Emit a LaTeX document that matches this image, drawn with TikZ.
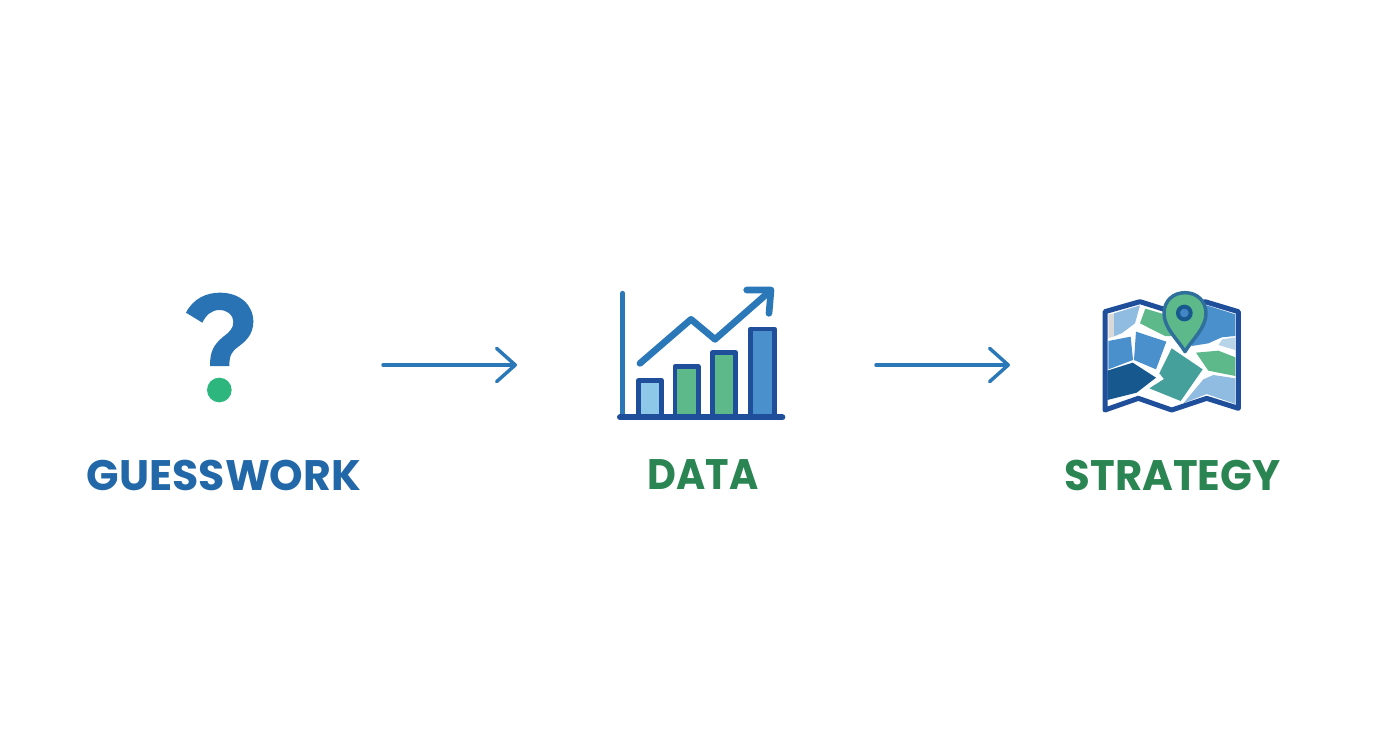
\documentclass[tikz,border=0pt]{standalone}
\usepackage{fontspec}
\setmainfont{Poppins}
\usetikzlibrary{arrows.meta, positioning}
\definecolor{flowblue}{HTML}{2B78B8}
\definecolor{wordblue}{HTML}{2268A8}
\definecolor{wordgreen}{HTML}{2A8553}
\definecolor{navy}{HTML}{1F4E9B}
\definecolor{paleblue}{HTML}{8FBCE0}
\definecolor{skyblue}{HTML}{8DC8E8}
\definecolor{midblue}{HTML}{4A90CC}
\definecolor{deepblue}{HTML}{17588F}
\definecolor{teal}{HTML}{45A09C}
\definecolor{leaf}{HTML}{5DB88A}
\definecolor{mist}{HTML}{B8D4E8}
\tikzset{
	word/.style={font=\fontsize{32}{32}\selectfont\bfseries, inner sep=0pt},
	flow/.style={draw=flowblue, line width=2.6pt, line cap=round, -{Straight Barb[length=14pt, width=25pt, line width=2.6pt, round]}},
	bar/.style={draw=navy, line width=3.5pt, line join=round},
	trend/.style={draw=flowblue, line width=5pt, line cap=round, line join=round}
}

\begin{document}
\begin{tikzpicture}[x=0.75pt, y=-0.75pt]
		\useasboundingbox (0, 0) rectangle (1392, 752);

		% Labels
		\begin{scope}
			\node (guesswork) at (224, 475) [word, text=wordblue] {GUESSWORK};
			\node (data) at (703, 475) [word, text=wordgreen] {\scalebox{0.93}[1]{DATA}};
			\node (strategy) at (1172.5, 475) [word, text=wordgreen] {\scalebox{0.98}[1]{STRATEGY}};
		\end{scope}

		% Flow arrows
		\begin{scope}
			\coordinate (flow_a_in) at (383, 365);
			\coordinate (flow_a_out) at (517, 365);
			\coordinate (flow_b_in) at (876, 365);
			\coordinate (flow_b_out) at (1010, 365);
			\draw [flow] (flow_a_in) -- (flow_a_out);
			\draw [flow] (flow_b_in) -- (flow_b_out);
		\end{scope}

		% Question mark
		\begin{scope}[shift={(170, 280)}, x=0.25pt, y=-0.25pt]
			\fill [flowblue!85!navy] (48,98) .. controls (70,55) and (110,38) .. (150,38) .. controls (210,38) and (250,75) .. (250,125) .. controls (250,165) and (225,185) .. (205,200) .. controls (185,215) and (178,225) .. (178,258) -- (120,258) .. controls (120,215) and (130,195) .. (160,170) .. controls (180,155) and (190,145) .. (190,125) .. controls (190,105) and (172,90) .. (148,90) .. controls (125,90) and (108,105) .. (97,128) -- cycle;
			\fill [fill={rgb,255:red,45;green,183;blue,127}] (148,330) circle [radius=37];
		\end{scope}

		% Chart
		\begin{scope}[shift={(605, 280)}, x=0.25pt, y=-0.25pt]
			\draw [bar, fill=skyblue] (100,302) rectangle (170,408);
			\draw [bar, fill=leaf] (210,260) rectangle (280,408);
			\draw [bar, fill=leaf] (322,218) rectangle (392,408);
			\draw [bar, fill=midblue] (437,147) rectangle (508,408);
			\draw [flowblue, line width=3.75pt, line cap=round] (53,40) -- (53,410);
			\draw [navy, line width=4.5pt, line cap=round] (45,412) -- (532,412);
			\draw [trend] (105,250) -- (258,118) -- (330,178) -- (492,36);
			\draw [trend] (425,30) -- (498,30) -- (492,100);
		\end{scope}

		% Map
		\begin{scope}[shift={(1090, 280)}, x=0.25pt, y=-0.25pt]
			\fill [white] (45,95) -- (150,65) -- (245,95) -- (345,65) -- (445,95) -- (445,385) -- (350,355) -- (245,390) -- (145,355) -- (45,390) -- cycle;
			\fill [black!15] (55,103) -- (75,100) -- (85,165) -- (55,175) -- cycle;
			\fill [paleblue] (72,100) -- (150,76) -- (135,130) -- (95,160) -- (72,168) -- cycle;
			\fill [midblue] (55,183) -- (122,170) -- (129,240) -- (55,268) -- cycle;
			\fill [midblue] (138,155) -- (229,185) -- (198,268) -- (132,240) -- cycle;
			\fill [deepblue] (52,272) -- (128,248) -- (198,293) -- (140,338) -- (52,360) -- cycle;
			\fill [teal] (245,205) -- (338,268) -- (272,363) -- (178,325) -- (222,297) -- (208,280) -- cycle;
			\fill [leaf] (166,86) -- (230,105) -- (245,168) -- (225,168) -- (150,130) -- cycle;
			\fill [midblue] (350,76) -- (436,103) -- (436,168) -- (395,172) -- (355,190) -- (305,198) -- (295,150) -- cycle;
			\fill [mist] (397,178) -- (436,172) -- (436,210) -- (385,195) -- cycle;
			\fill [leaf] (318,218) -- (385,212) -- (436,232) -- (436,288) -- (355,272) -- cycle;
			\fill [paleblue] (340,298) -- (370,285) -- (436,295) -- (436,372) -- (350,342) -- (280,370) -- cycle;
			\draw [navy, line width=3.75pt, line join=round] (45,95) -- (150,65) -- (245,95) -- (345,65) -- (445,95) -- (445,385) -- (350,355) -- (245,390) -- (145,355) -- (45,390) -- cycle;
			\draw [draw=teal!40!navy, fill=leaf, line width=2.6pt, line join=round] (285,215) .. controls (265,180) and (222,145) .. (222,100) .. controls (222,62) and (250,38) .. (285,38) .. controls (320,38) and (348,62) .. (348,100) .. controls (348,145) and (305,180) .. (285,215) -- cycle;
			\draw [draw=deepblue, fill=midblue!85!navy, line width=3pt] (283,99) circle [radius=19];
		\end{scope}

	\end{tikzpicture}
\end{document}
